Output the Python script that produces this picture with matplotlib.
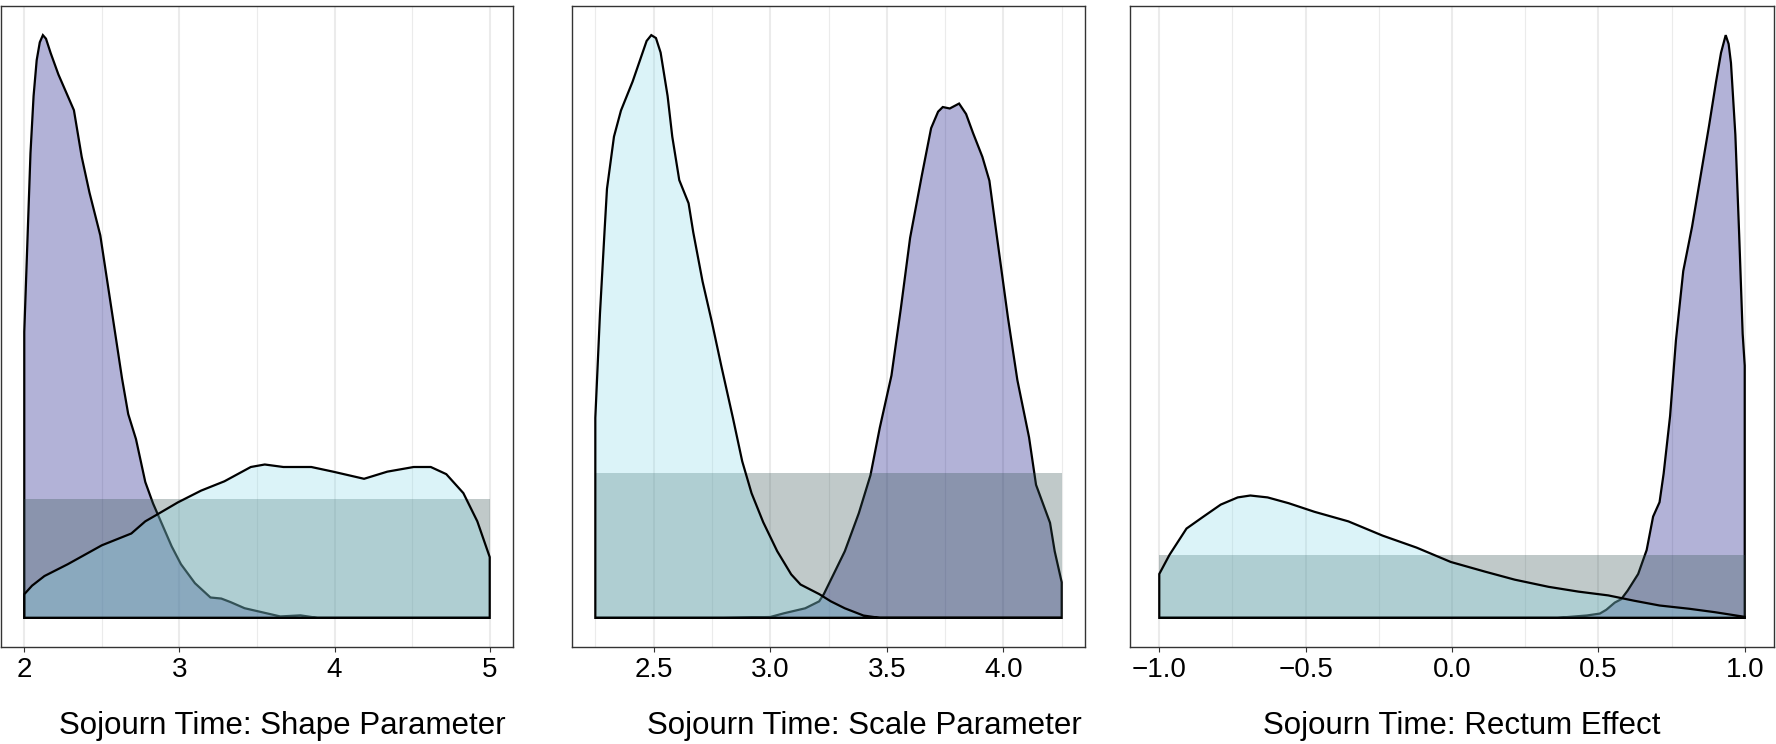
import matplotlib.pyplot as plt

plt.rcParams['font.family'] = ['Liberation Sans', 'DejaVu Sans']

# panel 1: shape parameter
p1_purple_x = [2.00, 2.02, 2.04, 2.06, 2.08, 2.10, 2.12, 2.14, 2.17, 2.22, 2.28, 2.32, 2.37, 2.42,
               2.49, 2.56, 2.63, 2.67, 2.72, 2.78, 2.83, 2.88, 2.95, 3.01, 3.10, 3.20, 3.27, 3.33,
               3.42, 3.52, 3.65, 3.78, 3.89, 4.20, 4.60, 5.00]
p1_purple_y = [0.80, 1.05, 1.30, 1.46, 1.56, 1.61, 1.63, 1.62, 1.58, 1.52, 1.46, 1.42, 1.29, 1.19,
               1.07, 0.87, 0.67, 0.57, 0.50, 0.38, 0.32, 0.27, 0.20, 0.15, 0.097, 0.057, 0.054, 0.044,
               0.027, 0.017, 0.004, 0.007, 0.0, 0.0, 0.0, 0.0]
p1_cyan_x = [2.00, 2.05, 2.13, 2.28, 2.50, 2.69, 2.78, 2.86, 2.99, 3.14, 3.29, 3.46, 3.55, 3.67,
             3.85, 3.99, 4.19, 4.34, 4.51, 4.62, 4.72, 4.83, 4.92, 5.00]
p1_cyan_y = [0.066, 0.09, 0.117, 0.15, 0.203, 0.236, 0.27, 0.29, 0.323, 0.356, 0.382, 0.422, 0.429,
             0.422, 0.422, 0.409, 0.389, 0.409, 0.422, 0.422, 0.402, 0.349, 0.27, 0.17]

# panel 2: scale parameter
p2_cyan_x = [2.25, 2.27, 2.29, 2.30, 2.33, 2.36, 2.41, 2.44, 2.47, 2.49, 2.51, 2.53, 2.56, 2.58,
             2.61, 2.65, 2.67, 2.71, 2.75, 2.79, 2.84, 2.88, 2.92, 2.97, 3.03, 3.09, 3.13, 3.21,
             3.26, 3.32, 3.40, 3.47, 3.62, 4.25]
p2_cyan_y = [0.69, 1.05, 1.34, 1.48, 1.66, 1.75, 1.85, 1.92, 1.99, 2.01, 2.00, 1.95, 1.80, 1.66,
             1.51, 1.43, 1.33, 1.16, 1.02, 0.87, 0.69, 0.54, 0.43, 0.33, 0.23, 0.15, 0.115, 0.082,
             0.057, 0.033, 0.008, 0.0, 0.0, 0.0]
p2_purple_x = [2.25, 2.80, 2.94, 3.00, 3.06, 3.15, 3.21, 3.23, 3.28, 3.32, 3.38, 3.43, 3.47, 3.52,
               3.56, 3.60, 3.65, 3.69, 3.72, 3.74, 3.77, 3.81, 3.84, 3.87, 3.91, 3.94, 3.97, 4.02,
               4.06, 4.11, 4.14, 4.20, 4.22, 4.25]
p2_purple_y = [0.0, 0.0, 0.002, 0.003, 0.016, 0.033, 0.057, 0.082, 0.164, 0.23, 0.361, 0.492, 0.656,
               0.836, 1.066, 1.311, 1.525, 1.689, 1.746, 1.762, 1.757, 1.774, 1.738, 1.672, 1.59,
               1.508, 1.328, 1.033, 0.82, 0.623, 0.459, 0.328, 0.23, 0.123]

# panel 3: rectum effect
p3_cyan_x = [-1.0, -0.965, -0.907, -0.849, -0.79, -0.732, -0.689, -0.63, -0.558, -0.47, -0.354,
             -0.237, -0.121, -0.004, 0.112, 0.214, 0.33, 0.432, 0.534, 0.622, 0.709, 0.811, 0.898, 1.0]
p3_cyan_y = [0.348, 0.5, 0.708, 0.803, 0.898, 0.955, 0.97, 0.955, 0.909, 0.841, 0.765, 0.652,
             0.557, 0.443, 0.367, 0.303, 0.246, 0.208, 0.178, 0.136, 0.098, 0.072, 0.045, 0.008]
p3_purple_x = [-1.0, 0.36, 0.418, 0.461, 0.505, 0.527, 0.556, 0.578, 0.60, 0.636, 0.665, 0.687,
               0.709, 0.723, 0.745, 0.765, 0.79, 0.82, 0.849, 0.878, 0.902, 0.919, 0.935, 0.945,
               0.953, 0.968, 0.981, 0.993, 1.0]
p3_purple_y = [0.0, 0.0, 0.011, 0.019, 0.034, 0.064, 0.121, 0.148, 0.216, 0.348, 0.538, 0.803,
               0.917, 1.144, 1.60, 2.20, 2.75, 3.10, 3.50, 3.90, 4.25, 4.48, 4.62, 4.55,
               4.40, 3.83, 3.04, 2.25, 2.0]

prior_lo = [2.0, 2.25, -1.0]
prior_hi = [5.0, 4.25, 1.0]
prior_h = [0.333, 0.5, 0.5]

major_ticks = [[2, 3, 4, 5], [2.5, 3.0, 3.5, 4.0], [-1.0, -0.5, 0.0, 0.5, 1.0]]
tick_labels = [['2', '3', '4', '5'], ['2.5', '3.0', '3.5', '4.0'],
               ['\u22121.0', '\u22120.5', '0.0', '0.5', '1.0']]
minor_ticks = [[2.5, 3.5, 4.5], [2.25, 2.75, 3.25, 3.75, 4.25], [-0.75, -0.25, 0.25, 0.75]]
xlabels = ['Sojourn Time: Shape Parameter', 'Sojourn Time: Scale Parameter',
           'Sojourn Time: Rectum Effect']

purple = [(p1_purple_x, p1_purple_y), (p2_purple_x, p2_purple_y), (p3_purple_x, p3_purple_y)]
cyan = [(p1_cyan_x, p1_cyan_y), (p2_cyan_x, p2_cyan_y), (p3_cyan_x, p3_cyan_y)]

W, H = 1776, 744
boxes = [(1, 513), (572, 1085), (1130, 1774)]  # panel left/right in pixels
top_px, bot_px = 6, 647
label_x = [0.55, 0.57, 0.515]

fig = plt.figure(figsize=(W / 100, H / 100), dpi=100)

for i in range(3):
    l, r = boxes[i]
    ax = fig.add_axes([l / W, (H - bot_px) / H, (r - l) / W, (bot_px - top_px) / H])
    lo, hi = prior_lo[i], prior_hi[i]
    span = hi - lo

    px, py = purple[i]
    cx, cy = cyan[i]
    # density polygons closed down to the baseline
    ax.fill([px[0]] + px + [px[-1]], [0] + py + [0], facecolor=(0, 0, 0.49, 0.3),
            edgecolor='black', lw=1.6, zorder=2)
    ax.fill_between([lo, hi], [0, 0], [prior_h[i], prior_h[i]], facecolor=(47/255, 79/255, 79/255, 0.3),
                    edgecolor='none', zorder=3)
    ax.fill([cx[0]] + cx + [cx[-1]], [0] + cy + [0], facecolor=(138/255, 218/255, 232/255, 0.3),
            edgecolor='black', lw=1.6, zorder=4)

    ymax = max(max(py), max(cy), prior_h[i])
    ax.set_ylim(-0.05 * ymax, 1.05 * ymax)
    ax.set_xlim(lo - 0.05 * span, hi + 0.05 * span)

    ax.set_xticks(major_ticks[i])
    ax.set_xticklabels(tick_labels[i])
    ax.set_xticks(minor_ticks[i], minor=True)
    ax.set_yticks([])
    ax.grid(which='major', axis='x', color='#EBEBEB', lw=1.5)
    ax.grid(which='minor', axis='x', color='#EBEBEB', lw=0.8)
    ax.set_axisbelow(True)
    ax.tick_params(axis='x', which='major', direction='out', length=3.6, width=0.8,
                   color='#333333', labelsize=20, labelcolor='black', pad=3.5)
    ax.tick_params(axis='x', which='minor', length=0)
    for s in ax.spines.values():
        s.set_color('#333333')
        s.set_linewidth(1.0)

    ax.set_xlabel(xlabels[i], fontsize=22.5, color='black')
    ax.xaxis.set_label_coords(label_x[i], -0.10)

fig.savefig('out.png', dpi=100)
